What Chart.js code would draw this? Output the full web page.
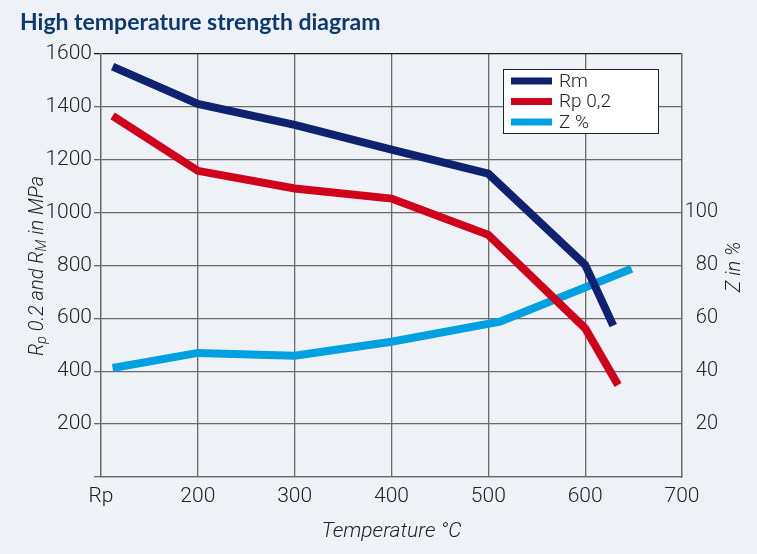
<!DOCTYPE html>
<html lang="en">
  <head>
    <meta charset="UTF-8" />
    <title>High temperature strength diagram</title>
    <script src="https://cdn.jsdelivr.net/npm/chart.js"></script>
    <style>
      html, body { margin: 0; padding: 0; background: #eef1f5; }
      #wrap { width: 757px; height: 554px; position: relative; }
    </style>
  </head>
  <body>
    <div id="wrap">
      <canvas id="strengthChart"></canvas>
    </div>

    <script>
      // values
      const rmTemps = [112, 200, 300, 400, 500, 600, 629];
      const rmValues = [1551, 1410, 1331, 1237, 1146, 802, 572];
      const rpTemps = [112, 200, 300, 400, 500, 600, 634];
      const rpValues = [1365, 1157, 1090, 1052, 915, 562, 348];
      const zTemps = [112, 200, 300, 400, 512, 648];
      const zValues = [41.2, 46.9, 45.8, 51.1, 58.7, 78.7];

      const xTicks = [100, 200, 300, 400, 500, 600, 700];
      const xTickLabels = ["Rp", "200", "300", "400", "500", "600", "700"];
      const zTickLabels = [20, 40, 60, 80, 100];

      const NARROW = "Roboto, 'Liberation Sans', sans-serif";
      const GRID = "#6a6a6a";

      const toPoints = (xs, ys) => xs.map((x, i) => ({ x: x, y: ys[i] }));

      // legend box inside plot + axis titles with subscripts
      const extras = {
        id: "extras",
        afterDraw(chart) {
          const ctx = chart.ctx;
          ctx.save();

          // legend
          const bx = 503, by = 69, bw = 155, bh = 64;
          ctx.fillStyle = "#ffffff";
          ctx.fillRect(bx, by, bw, bh);
          ctx.strokeStyle = "#222";
          ctx.lineWidth = 1;
          ctx.strokeRect(bx + 0.5, by + 0.5, bw, bh);
          ctx.font = "300 19px " + NARROW;
          ctx.textBaseline = "middle";
          chart.data.datasets.forEach((ds, i) => {
            const cy = by + 12 + i * 20.5;
            ctx.fillStyle = ds.borderColor;
            ctx.fillRect(bx + 8, cy - 3.5, 41, 7);
            ctx.fillStyle = "#222";
            ctx.fillText(ds.label, bx + 56, cy + 1);
          });

          // left axis title: R_p 0.2 and R_M in MPa
          const parts = [
            ["R", false], ["p", true], [" 0.2 and R", false], ["M", true], [" in MPa", false]
          ];
          const big = "italic 300 20px " + NARROW;
          const small = "italic 300 14px " + NARROW;
          let total = 0;
          parts.forEach(p => { ctx.font = p[1] ? small : big; total += ctx.measureText(p[0]).width; });
          ctx.translate(35, 266);
          ctx.rotate(-Math.PI / 2);
          ctx.fillStyle = "#222";
          ctx.textBaseline = "alphabetic";
          let x = -total / 2;
          parts.forEach(p => {
            ctx.font = p[1] ? small : big;
            ctx.fillText(p[0], x, p[1] ? 11 : 8);
            x += ctx.measureText(p[0]).width;
          });
          ctx.setTransform(1, 0, 0, 1, 0, 0);
          ctx.scale(chart.currentDevicePixelRatio, chart.currentDevicePixelRatio);

          // right axis title
          ctx.translate(735, 267);
          ctx.rotate(-Math.PI / 2);
          ctx.font = big;
          ctx.textAlign = "center";
          ctx.textBaseline = "middle";
          ctx.fillText("Z in %", 0, 0);
          ctx.restore();
        }
      };

      const ctx = document.getElementById("strengthChart").getContext("2d");

      new Chart(ctx, {
        type: "line",
        data: {
          datasets: [
            { label: "Rm", data: toPoints(rmTemps, rmValues), borderColor: "#0f2270", yAxisID: "y" },
            { label: "Rp 0,2", data: toPoints(rpTemps, rpValues), borderColor: "#d0021b", yAxisID: "y" },
            { label: "Z %", data: toPoints(zTemps, zValues), borderColor: "#00a0e1", yAxisID: "y2" },
          ],
        },
        options: {
          responsive: true,
          maintainAspectRatio: false,
          animation: false,
          datasets: {
            line: { borderWidth: 8, pointRadius: 0, tension: 0, fill: false, borderCapStyle: "butt", borderJoinStyle: "miter" },
          },
          layout: { padding: { left: 20, right: 39, top: 0, bottom: 0 } },
          plugins: {
            legend: { display: false },
            tooltip: { enabled: false },
            title: {
              display: true,
              text: "High temperature strength diagram",
              align: "start",
              color: "#0b3a73",
              font: { family: "Lato, 'Open Sans', sans-serif", size: 23, weight: "bold" },
              padding: { top: 9, bottom: 17 },
            },
          },
          scales: {
            x: {
              type: "linear",
              min: 100,
              max: 700,
              afterBuildTicks: axis => { axis.ticks = xTicks.map(v => ({ value: v })); },
              afterFit: axis => { axis.height = 77; },
              ticks: {
                callback: v => xTickLabels[xTicks.indexOf(v)],
                color: "#222",
                font: { family: NARROW, size: 21, weight: 300 },
                padding: 7,
                maxRotation: 0,
              },
              grid: { color: GRID, lineWidth: 1.3, drawTicks: false },
              border: { color: GRID, width: 1.3 },
              title: {
                display: true,
                text: "Temperature °C",
                color: "#222",
                font: { family: NARROW, size: 21, style: "italic", weight: 300 },
                padding: { top: 0, bottom: 10 },
              },
            },
            y: {
              position: "left",
              min: 0,
              max: 1600,
              ticks: {
                stepSize: 200,
                callback: v => (v === 0 ? "" : v),
                color: "#222",
                font: { family: NARROW, size: 21, weight: 300 },
                padding: 2,
              },
              afterFit: axis => { axis.width = 81; },
              grid: {
                color: c => (c.tick && c.tick.value === 1600 ? "#1a1a1a" : GRID),
                lineWidth: 1.3,
                tickLength: 7,
              },
              border: { color: GRID, width: 1.3 },
            },
            y2: {
              position: "right",
              min: 0,
              max: 160,
              ticks: {
                stepSize: 20,
                callback: v => (zTickLabels.includes(v) ? v : ""),
                color: "#222",
                font: { family: NARROW, size: 20, weight: 300 },
                padding: 6,
                crossAlign: "far",
              },
              afterFit: axis => { axis.width = 36; },
              grid: { drawOnChartArea: false, drawTicks: false },
              border: { color: GRID, width: 1.3 },
            },
          },
        },
        plugins: [extras],
      });
    </script>
  </body>
</html>
